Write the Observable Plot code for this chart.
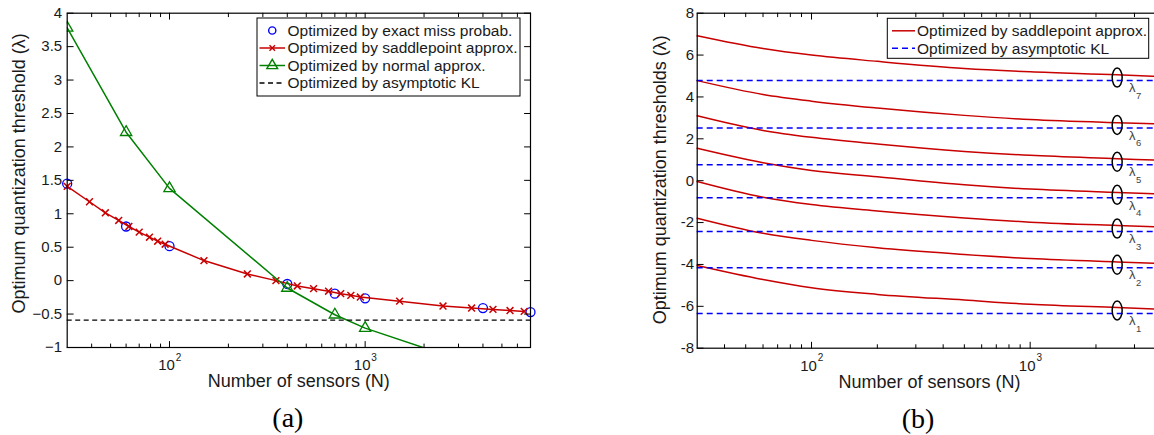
<!DOCTYPE html>
<html><head><meta charset="utf-8">
<script src="https://cdn.jsdelivr.net/npm/d3@7"></script>
<script src="https://cdn.jsdelivr.net/npm/@observablehq/plot@0.6"></script>
<style>
html,body{margin:0;padding:0;background:#fff;overflow:hidden;}
#wrap{position:relative;width:1154px;height:435px;overflow:hidden;background:#fff;}
</style></head>
<body><div id="wrap"></div>
<script>
// ---------------- Panel (a) data ----------------
const exactN   = [30, 60, 100, 400, 700, 1000, 4000, 7000];
const exactVal = [1.45, 0.81, 0.515, -0.05, -0.195, -0.265, -0.41, -0.47];

const saddleN   = [30, 39, 47, 55, 62, 70, 79, 87, 95, 150, 250, 350, 450, 545, 650, 750, 845, 945, 1500, 2500, 3500, 4500, 5500, 6500];
const saddleVal = [1.41, 1.18, 1.015, 0.90, 0.81, 0.725, 0.65, 0.59, 0.545, 0.30, 0.10, 0.0, -0.08, -0.12, -0.158, -0.195, -0.22, -0.245, -0.307, -0.38, -0.41, -0.43, -0.447, -0.46];

const normalN   = [30, 60, 100, 400, 700, 1000, 4000];
const normalVal = [3.78, 2.22, 1.38, -0.11, -0.51, -0.71, -1.3];

const klA = [-0.59];

const legendA = ["Optimized by exact miss probab.", "Optimized by saddlepoint approx.", "Optimized by normal approx.", "Optimized by asymptotic KL"];
const xMajorA = [100, 1000];
const xMinorA = [40, 50, 60, 70, 80, 90, 200, 300, 400, 500, 600, 700, 800, 900, 2000, 3000, 4000, 5000, 6000, 7000];
const yTicksA = [-1, -0.5, 0, 0.5, 1, 1.5, 2, 2.5, 3, 3.5, 4];

// ---------------- Panel (b) data ----------------
const nB   = [30, 60, 100, 200, 500, 1000, 2500, 4000];
const lam1 = [-4.05, -4.72, -5.11, -5.43, -5.70, -5.90, -6.06, -6.14];
const lam2 = [-1.79, -2.51, -2.85, -3.20, -3.52, -3.72, -3.88, -3.95];
const lam3 = [-0.04, -0.79, -1.14, -1.45, -1.78, -1.98, -2.14, -2.21];
const lam4 = [1.55, 0.86, 0.49, 0.19, -0.19, -0.40, -0.56, -0.63];
const lam5 = [3.10, 2.40, 2.07, 1.75, 1.40, 1.21, 1.05, 0.97];
const lam6 = [4.78, 4.12, 3.80, 3.47, 3.12, 2.92, 2.77, 2.71];
const lam7 = [6.92, 6.31, 6.00, 5.70, 5.36, 5.20, 5.06, 4.97];
const klB  = [-6.34, -4.16, -2.43, -0.82, 0.76, 2.52, 4.78];
const annotN = 2500;

const legendB = ["Optimized by saddlepoint approx.", "Optimized by asymptotic KL"];
const xMajorB = [100, 1000];
const xMinorB = [40, 50, 60, 70, 80, 90, 200, 300, 400, 500, 600, 700, 800, 900, 2000, 3000, 4000];
const yTicksB = [-8, -6, -4, -2, 0, 2, 4, 6, 8];

// ---------------- helpers ----------------
const RED = "#c80000", BLUE = "#0000ff", GREEN = "#008000", TXT = "#1a1a1a";
const FONT = '"Liberation Sans", Arial, Helvetica, sans-serif';
const SERIF = '"Liberation Serif", "Times New Roman", serif';

const tickShape = {draw(context, l) { context.moveTo(0, 0); context.lineTo(0, -l); }};
const ellipseSymbol = {draw(ctx) {
  const rx = 5, ry = 9.5, k = 0.5523;
  ctx.moveTo(rx, 0);
  ctx.bezierCurveTo(rx, ry * k, rx * k, ry, 0, ry);
  ctx.bezierCurveTo(-rx * k, ry, -rx, ry * k, -rx, 0);
  ctx.bezierCurveTo(-rx, -ry * k, -rx * k, -ry, 0, -ry);
  ctx.bezierCurveTo(rx * k, -ry, rx, -ry * k, rx, 0);
  ctx.closePath();
}};

function boxTicks(xMajor, xMinor, yTicks) {
  const c = {shape: tickShape, anchor: "start", stroke: "#000", strokeWidth: 1};
  return [
    Plot.vector(xMajor, {...c, x: d => d, frameAnchor: "bottom", rotate: 0, length: 6}),
    Plot.vector(xMajor, {...c, x: d => d, frameAnchor: "top", rotate: 180, length: 6}),
    Plot.vector(xMinor, {...c, x: d => d, frameAnchor: "bottom", rotate: 0, length: 3.5}),
    Plot.vector(xMinor, {...c, x: d => d, frameAnchor: "top", rotate: 180, length: 3.5}),
    Plot.vector(yTicks, {...c, y: d => d, frameAnchor: "left", rotate: 90, length: 6}),
    Plot.vector(yTicks, {...c, y: d => d, frameAnchor: "right", rotate: -90, length: 6})
  ];
}
const T = {textAnchor: "middle", lineAnchor: "middle"};
function xLabels(xMajor) {
  return [
    Plot.text(xMajor, {...T, x: d => d, frameAnchor: "bottom", text: () => "10", dx: -3, dy: 18, fontSize: 15, fill: TXT}),
    Plot.text(xMajor, {...T, x: d => d, frameAnchor: "bottom", text: d => String(Math.round(Math.log10(d))), dx: 9, dy: 10, fontSize: 10, fill: TXT})
  ];
}
function styleSvg(svg, left) {
  svg.style.position = "absolute";
  svg.style.left = left + "px";
  svg.style.top = "0px";
  svg.style.maxWidth = "none";
  svg.style.background = "transparent";
  svg.style.fontFamily = FONT;
  svg.style.overflow = "visible";
}
function addLegend(svg, box, rows) {
  const g = d3.select(svg).append("g").attr("font-family", FONT).attr("text-anchor", "start");
  g.append("rect").attr("x", box.x).attr("y", box.y).attr("width", box.w).attr("height", box.h)
    .attr("fill", "white").attr("stroke", "black").attr("stroke-width", 1);
  rows.forEach((r, i) => {
    const y = box.y + 12.5 + i * 17.5;
    if (r.line) g.append("line").attr("x1", box.lx1).attr("x2", box.lx2).attr("y1", y).attr("y2", y)
      .attr("stroke", r.color).attr("stroke-width", 1.5).attr("stroke-dasharray", r.dash || null);
    if (r.symbol) g.append("path").attr("transform", `translate(${(box.lx1 + box.lx2) / 2},${y})`)
      .attr("d", d3.symbol(r.symbol, r.r * r.r * Math.PI)()).attr("fill", "none")
      .attr("stroke", r.color).attr("stroke-width", 1.4);
    g.append("text").attr("x", box.tx).attr("y", y).attr("dy", "0.35em").attr("font-size", 15.5)
      .attr("text-anchor", "start").attr("fill", TXT).text(r.label);
  });
}

const wrap = document.getElementById("wrap");

// ---------------- Panel (a) ----------------
const exactData  = exactN.map((n, i) => ({N: n, v: exactVal[i]}));
const saddleData = saddleN.map((n, i) => ({N: n, v: saddleVal[i]}));
const normalData = normalN.map((n, i) => ({N: n, v: normalVal[i]}));
const fmtA = d => (d < 0 ? "\u2212" : "") + Math.abs(d);

const plotA = Plot.plot({
  width: 570, height: 435,
  marginLeft: 66.7, marginRight: 40, marginTop: 12.7, marginBottom: 88,
  x: {type: "log", domain: [30, 7000], axis: null},
  y: {domain: [-1, 4], axis: null},
  marks: [
    Plot.dot(exactData, {x: "N", y: "v", symbol: "circle", r: 4.5, stroke: BLUE, strokeWidth: 1.3, fill: "none"}),
    Plot.line(saddleData, {x: "N", y: "v", stroke: RED, strokeWidth: 1.5}),
    Plot.dot(saddleData, {x: "N", y: "v", symbol: "times", r: 3.2, stroke: RED, strokeWidth: 1.5}),
    Plot.line(normalData, {x: "N", y: "v", stroke: GREEN, strokeWidth: 1.5, clip: true}),
    Plot.dot(normalData, {x: "N", y: "v", symbol: "triangle", r: 4.2, stroke: GREEN, strokeWidth: 1.3, fill: "none", clip: true}),
    Plot.ruleY(klA, {stroke: "#000", strokeWidth: 1.4, strokeDasharray: "5,3.5"}),
    Plot.frame({stroke: "#000", strokeWidth: 1.2}),
    ...boxTicks(xMajorA, xMinorA, yTicksA),
    Plot.text(yTicksA, {y: d => d, frameAnchor: "left", dx: -5, textAnchor: "end", lineAnchor: "middle", text: fmtA, fontSize: 15, fill: TXT}),
    ...xLabels(xMajorA),
    Plot.text(["Number of sensors (N)"], {...T, text: d => d, frameAnchor: "bottom", dy: 34, fontSize: 18, fill: TXT}),
    Plot.text(["Optimum quantization threshold (\u03bb)"], {...T, text: d => d, frameAnchor: "left", dx: -48, dy: -7, rotate: -90, fontSize: 18, fill: TXT}),
    Plot.text(["(a)"], {...T, text: d => d, frameAnchor: "bottom", dx: -11, dy: 71, fontSize: 28, fontFamily: SERIF, fill: "#000"})
  ]
});
styleSvg(plotA, 0);
addLegend(plotA, {x: 257, y: 18, w: 263, h: 78, lx1: 259.5, lx2: 285, tx: 287.5}, [
  {label: legendA[0], color: BLUE, symbol: d3.symbolCircle, r: 3.6, line: false},
  {label: legendA[1], color: RED, symbol: d3.symbolTimes, r: 2.6, line: true},
  {label: legendA[2], color: GREEN, symbol: d3.symbolTriangle, r: 4, line: true},
  {label: legendA[3], color: "#000", line: true, dash: "5,3.5"}
]);
wrap.appendChild(plotA);

// ---------------- Panel (b) ----------------
const lams = [lam1, lam2, lam3, lam4, lam5, lam6, lam7];
const curveData = lams.flatMap((arr, k) => nB.map((n, i) => ({N: n, v: arr[i], k: k + 1})));

const plotB = Plot.plot({
  width: 540, height: 435,
  marginLeft: 66.7, marginRight: 8.7, marginTop: 12.7, marginBottom: 87.3,
  x: {type: "log", domain: [30, 4000], axis: null},
  y: {domain: [-8, 8], axis: null},
  marks: [
    Plot.line(curveData, {x: "N", y: "v", z: "k", stroke: RED, strokeWidth: 1.5, curve: "monotone-x"}),
    Plot.ruleY(klB, {stroke: BLUE, strokeWidth: 1.5, strokeDasharray: "6,4"}),
    Plot.dot(klB, {x: () => annotN, y: d => d, dy: -3, symbol: ellipseSymbol, stroke: "#000", strokeWidth: 1.5, fill: "none"}),
    Plot.text(klB, {...T, x: () => annotN, y: d => d, text: () => "\u03bb", dx: 15, dy: 7.5, fontSize: 13, fill: "#444"}),
    Plot.text(klB, {...T, x: () => annotN, y: d => d, text: (d, i) => String(i + 1), dx: 21.5, dy: 15.5, fontSize: 9.5, fill: "#444"}),
    Plot.frame({stroke: "#000", strokeWidth: 1.2}),
    ...boxTicks(xMajorB, xMinorB, yTicksB),
    Plot.text(yTicksB, {y: d => d, frameAnchor: "left", dx: -3, textAnchor: "end", lineAnchor: "middle", text: d => String(d), fontSize: 15, fill: TXT}),
    ...xLabels(xMajorB),
    Plot.text(["Number of sensors (N)"], {...T, text: d => d, frameAnchor: "bottom", dy: 34, fontSize: 18, fill: TXT}),
    Plot.text(["Optimum quantization thresholds (\u03bb)"], {...T, text: d => d, frameAnchor: "left", dx: -37, dy: -1, rotate: -90, fontSize: 18, fill: TXT}),
    Plot.text(["(b)"], {...T, text: d => d, frameAnchor: "bottom", dx: -11.5, dy: 71, fontSize: 28, fontFamily: SERIF, fill: "#000"})
  ]
});
styleSvg(plotB, 630);
addLegend(plotB, {x: 257.3, y: 18.3, w: 261.4, h: 40, lx1: 262, lx2: 285, tx: 287}, [
  {label: legendB[0], color: RED, line: true},
  {label: legendB[1], color: BLUE, line: true, dash: "6,4"}
]);
wrap.appendChild(plotB);
</script>
</body></html>
